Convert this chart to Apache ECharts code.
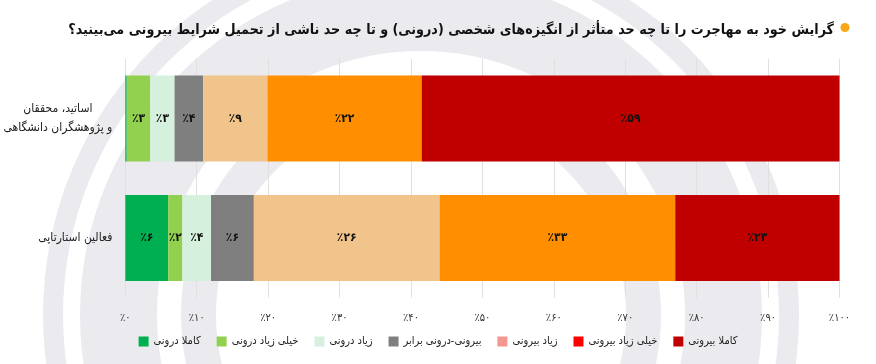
<!DOCTYPE html>
<html>
<head>
<meta charset="utf-8">
<script src="https://cdn.jsdelivr.net/npm/echarts@6/dist/echarts.min.js"></script>
<style>
html,body{margin:0;padding:0;background:#fff;}
#chart{width:876px;height:364px;direction:rtl;}
</style>
</head>
<body>
<div id="chart"></div>
<script>
const titleText = 'گرایش خود به مهاجرت را تا چه حد متأثر از انگیزه‌های شخصی (درونی) و تا چه حد ناشی از تحمیل شرایط بیرونی می‌بینید؟';
const categories = ['اساتید، محققان\nو پژوهشگران دانشگاهی', 'فعالین استارتاپی'];
const seriesNames = ['کاملا درونی', 'خیلی زیاد درونی', 'زیاد درونی', 'بیرونی-درونی برابر', 'زیاد بیرونی', 'خیلی زیاد بیرونی', 'کاملا بیرونی'];
const kamelaDaruni = [0.2, 6];
const kheiliZiadDaruni = [3.3, 2];
const ziadDaruni = [3.4, 4];
const barabar = [4.0, 6];
const ziadBiruni = [9.0, 26];
const kheiliZiadBiruni = [21.6, 33];
const kamelaBiruni = [58.5, 23];
const xTicks = [0, 10, 20, 30, 40, 50, 60, 70, 80, 90, 100];

const barColors = ['#00B050', '#92D050', '#D5F0DD', '#7F7F7F', '#F0C48A', '#FF8F00', '#C00000'];
const legendColors = ['#00B050', '#92D050', '#D5F0DD', '#7F7F7F', '#F4978E', '#FF0000', '#C00000'];
const seriesValues = [kamelaDaruni, kheiliZiadDaruni, ziadDaruni, barabar, ziadBiruni, kheiliZiadBiruni, kamelaBiruni];

const FONT = '"DejaVu Sans Condensed", "DejaVu Sans", sans-serif';
function fa(n) {
  return String(n).replace(/[0-9]/g, d => '۰۱۲۳۴۵۶۷۸۹'[d]);
}

// faint background watermark (decoration only)
const WM = '#EBEBEF';
const watermark = [
  {type: 'ring', z: -100, silent: true, shape: {cx: 421, cy: 315, r: 378, r0: 358}, style: {fill: WM}},
  {type: 'ring', z: -100, silent: true, shape: {cx: 421, cy: 315, r: 341, r0: 264}, style: {fill: WM}},
  {type: 'ring', z: -100, silent: true, shape: {cx: 421, cy: 315, r: 240, r0: 205}, style: {fill: WM}}
];

const chart = echarts.init(document.getElementById('chart'), null, {renderer: 'canvas'});
const option = {
  backgroundColor: '#fff',
  animation: false,
  textStyle: {fontFamily: FONT},
  title: {
    text: titleText,
    right: 37,
    top: 18,
    textStyle: {fontFamily: FONT, fontSize: 14.2, fontWeight: 'bold', color: '#111'}
  },
  graphic: watermark.concat([{
    type: 'circle',
    shape: {cx: 845, cy: 27.5, r: 4.5},
    style: {fill: '#F9A61A'}
  }]),
  legend: {
    bottom: 12,
    left: 'center',
    itemWidth: 10,
    itemHeight: 10,
    itemGap: 16,
    icon: 'rect',
    textStyle: {fontFamily: FONT, fontSize: 11, color: '#222'},
    data: seriesNames.map((n, i) => ({name: n, itemStyle: {color: legendColors[i]}}))
  },
  grid: {left: 125.3, right: 36.5, top: 58.75, bottom: 66.25, containLabel: false, outerBoundsMode: 'none'},
  xAxis: {
    type: 'value',
    min: xTicks[0],
    max: xTicks[xTicks.length - 1],
    interval: 10,
    axisLine: {show: false},
    axisTick: {show: false},
    splitLine: {show: true, lineStyle: {color: '#E0E0E0', width: 1}},
    axisLabel: {
      margin: 15,
      fontFamily: FONT,
      fontSize: 11,
      color: '#333',
      formatter: v => '٪' + fa(v)
    }
  },
  yAxis: {
    type: 'category',
    inverse: true,
    data: categories,
    axisLine: {show: false},
    axisTick: {show: false},
    axisLabel: {
      margin: 13,
      align: 'right',
      formatter: v => v.split('\n').map(s => '{c|' + s + '}').join('\n'),
      rich: {c: {align: 'center', fontFamily: FONT, fontSize: 12, color: '#222', lineHeight: 19}}
    }
  },
  series: seriesNames.map((name, i) => ({
    name: name,
    type: 'bar',
    stack: 'total',
    barWidth: 86,
    data: seriesValues[i],
    itemStyle: {color: barColors[i]},
    label: {
      show: true,
      position: 'inside',
      fontFamily: FONT,
      fontSize: 12,
      fontWeight: 'bold',
      color: '#111',
      formatter: p => p.value >= 1 ? '٪' + fa(Math.round(p.value)) : ''
    }
  }))
};
chart.setOption(option);
</script>
</body>
</html>
